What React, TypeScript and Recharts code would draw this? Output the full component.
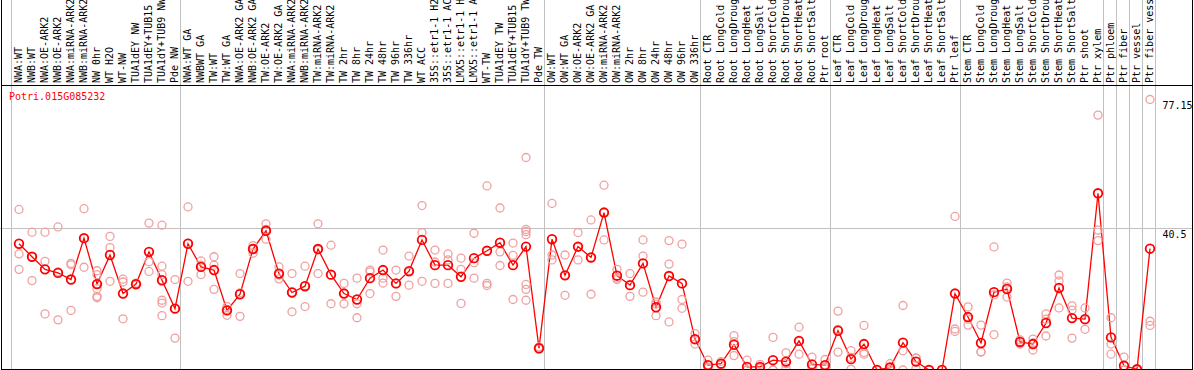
import { ComposedChart, Line, XAxis, YAxis, ReferenceLine } from 'recharts'

const geneName = 'Potri.015G085232'

const categories = [
  'NWA:WT', 'NWB:WT', 'NWA:OE-ARK2', 'NWB:OE-ARK2', 'NWA:miRNA-ARK2', 'NWB:miRNA-ARK2', 'NW 0hr', 'WT H2O',
  'WT-NW', 'TUA1dEY NW', 'TUA1dEY+TUB15', 'TUA1dY+TUB9 NW', 'Pde NW',
  'NWA:WT GA', 'NWBWT GA', 'TW:WT', 'TW:WT GA', 'NWA:OE-ARK2 GA', 'NWB:OE-ARK2 GA', 'TW:OE-ARK2', 'TW:OE-ARK2 GA',
  'NWA:miRNA-ARK2', 'NWB:miRNA-ARK2', 'TW:miRNA-ARK2', 'TW:miRNA-ARK2', 'TW 2hr', 'TW 8hr', 'TW 24hr', 'TW 48hr',
  'TW 96hr', 'TW 336hr', 'WT ACC', '35S::etr1-1 H2', '35S::etr1-1 AC', 'LMX5::etr1-1 H', 'LMX5::etr1-1 A',
  'WT-TW', 'TUA1dEY TW', 'TUA1dEY+TUB15', 'TUA1dY+TUB9 TW', 'Pde TW',
  'OW:WT', 'OW:WT GA', 'OW:OE-ARK2', 'OW:OE-ARK2 GA', 'OW:miRNA-ARK2', 'OW:miRNA-ARK2', 'OW 2hr', 'OW 8hr',
  'OW 24hr', 'OW 48hr', 'OW 96hr', 'OW 336hr',
  'Root CTR', 'Root LongCold', 'Root LongDroug', 'Root LongHeat', 'Root LongSalt', 'Root ShortCold',
  'Root ShortDrou', 'Root ShortHeat', 'Root ShortSalt', 'Ptr root',
  'Leaf CTR', 'Leaf LongCold', 'Leaf LongDroug', 'Leaf LongHeat', 'Leaf LongSalt', 'Leaf ShortCold',
  'Leaf ShortDrou', 'Leaf ShortHeat', 'Leaf ShortSalt', 'Ptr leaf',
  'Stem CTR', 'Stem LongCold', 'Stem LongDroug', 'Stem LongHeat', 'Stem LongSalt', 'Stem ShortCold',
  'Stem ShortDrou', 'Stem ShortHeat', 'Stem ShortSalt', 'Ptr shoot', 'Ptr xylem',
  'Ptr phloem', 'Ptr fiber', 'Ptr vessel', 'Ptr fiber vess',
]

const meanValues = [
  36.0, 32.3, 28.7, 27.7, 25.8, 37.6, 24.5, 32.8, 21.8, 24.5, 33.7, 25.6, 17.5,
  36.0, 29.4, 28.5, 17.0, 21.6, 34.5, 39.7, 27.5, 22.1, 23.9, 34.5, 27.2, 21.8, 20.1, 26.2, 28.5,
  24.7, 28.2, 37.1, 29.9, 29.9, 26.6, 31.9, 34.0, 36.3, 29.9, 35.2, 6.2,
  37.3, 27.0, 35.2, 32.1, 44.9, 26.9, 24.2, 30.4, 17.9, 26.8, 24.7, 8.8,
  1.4, 1.8, 7.2, 0.9, 0.9, 2.8, 2.4, 8.3, 1.6, 1.4,
  11.2, 3.1, 7.4, 0, 0.7, 7.8, 2.4, 0, 0, 21.8,
  15.1, 7.7, 22.2, 23.1, 8.0, 7.4, 13.4, 23.4, 14.8, 14.5, 50.4,
  9.3, 1.2, 0.2, 34.6,
]

const replicates = [
  [45.8, 33.1, 28.7], [39.3, 32.3, 25.5], [39.3, 31.0, 16.0], [40.8, 28.0, 14.3], [30.4, 30.0, 17.0],
  [46.0, 37.5, 29.3], [28.3, 27.2, 24.5, 23.2, 21.0, 20.6], [38.1, 34.9, 25.3], [25.9, 25.1, 14.6],
  [24.8, 24.5, 24.2], [41.9, 30.9, 28.1], [41.3, 29.6, 27.2, 25.6, 19.9, 19.1, 15.5], [25.8, 17.6, 9.1],
  [46.5, 36.2, 25.3], [31.1, 29.9, 27.2], [32.3, 29.9, 23.0], [18.1, 17.3, 15.6], [27.5, 22.0, 15.3],
  [35.5, 34.7, 33.3], [41.7, 40.1, 37.3], [29.4, 27.1, 26.0], [27.5, 22.2, 16.6], [29.6, 24.0, 18.1],
  [41.7, 34.3, 27.5], [35.6, 27.1, 18.9], [24.7, 21.8, 18.9], [26.2, 18.9, 14.9], [28.5, 28.0, 21.8],
  [34.2, 26.2, 24.8], [28.5, 24.6, 21.0], [32.5, 27.9, 24.2], [46.9, 39.2, 25.3], [34.2, 30.8, 24.7],
  [33.1, 31.4, 24.7], [31.9, 28.7, 19.0], [39.0, 30.6, 26.2], [52.5, 24.7, 24.1], [46.2, 33.7, 29.8],
  [36.2, 32.7, 20.1], [60.6, 40.1, 39.5, 38.6, 24.4, 23.0, 19.9], [6.6, 6.0, 6.0],
  [47.5, 32.8, 31.4], [32.8, 27.0, 21.3], [39.2, 35.0, 31.4], [42.8, 32.0, 21.6], [52.7, 44.9, 37.1],
  [28.7, 26.2, 25.8], [27.5, 24.1, 21.0], [37.1, 32.5, 22.2], [19.4, 18.8, 15.5], [36.9, 30.2, 13.7],
  [35.9, 20.1, 17.6], [10.4, 8.6, 7.4],
  [2.8, 0.8, 0.6], [2.4, 1.6, 1.4], [9.8, 8.1, 4.1], [2.8, 0, 0], [1.6, 0.6, 0.5],
  [9.3, 0, 0], [4.9, 1.8, 0.6], [12.2, 8.2, 4.5], [3.7, 0.8, 0.3], [3.0, 0.8, 0.4],
  [16.8, 11.6, 5.1], [5.5, 3.6, 0.2], [12.7, 5.0, 4.5], [0, 0, 0], [1.8, 0.2, 0.1],
  [18.4, 5.5, 0], [3.4, 3.4, 0.4], [0, 0, 0], [0, 0, 0], [43.8, 11.7, 11.0],
  [18.0, 14.5, 12.8], [12.8, 5.2, 5.1], [35.1, 21.4, 10.1], [24.8, 23.7, 20.8], [8.6, 8.0, 7.4],
  [8.8, 7.7, 5.7], [16.0, 14.5, 9.7], [27.1, 25.4, 17.7], [18.3, 17.1, 9.1], [17.7, 14.3, 11.6],
  [72.7, 39.9, 36.9],
  [14.9, 7.4, 4.5], [3.7, 0, 0], [0.3, 0.2, 0], [77.15, 13.9, 12.7],
]

const yTicks = [0, 40.5, 77.15]
// last category index of each block (grey separators)
const groupEnds = [12, 40, 52, 62, 72, 83, 84, 85, 86, 87]

const repKeys = ['r0', 'r1', 'r2', 'r3', 'r4', 'r5', 'r6']

const chartData = categories.map((name, i) => {
  const row: Record<string, number | string> = { idx: i, name, mean: meanValues[i] }
  replicates[i].forEach((v, k) => {
    row[repKeys[k]] = v
  })
  return row
})

const mono = "'DejaVu Sans Mono', monospace"

const HeaderTick = (props: any) => {
  const { x, payload } = props
  const bx = x + 2.5
  const by = 83
  return (
    <text x={bx} y={by} transform={`rotate(-90, ${bx}, ${by})`} fontFamily={mono} fontSize={10} fill="#000">
      {categories[payload.value]}
    </text>
  )
}

const ValueTick = (props: any) => {
  const { x, y, payload } = props
  const dy = payload.value === 0 ? -4 : 10
  return (
    <text x={x} y={y + dy} textAnchor="start" fontFamily={mono} fontSize={10} fill="#000">
      {payload.value}
    </text>
  )
}

const VSep = (props: any) => {
  const px = Math.round(props.x1 - 1.5) + 0.5
  return <line x1={px} x2={px} y1={0} y2={370} stroke="#c0c0c0" strokeWidth={1} />
}

const HGrid = (props: any) => {
  const py = Math.round(props.y1) + 0.5
  return <line x1={0} x2={1193} y1={py} y2={py} stroke="#c0c0c0" strokeWidth={1} />
}

export default function App() {
  const line = (top: number, left: number, w: number, h: number) => (
    <div style={{ position: 'absolute', top, left, width: w, height: h, background: '#000' }} />
  )
  return (
    <div style={{ position: 'fixed', top: 0, left: 0, width: 1194, height: 370, background: '#fff', overflow: 'hidden' }}>
      <ComposedChart
        width={1194}
        height={370}
        data={chartData}
        margin={{ top: 0, right: 0, bottom: 0, left: 12.5 }}
      >
        <XAxis
          dataKey="idx"
          type="category"
          scale="band"
          orientation="top"
          height={89.5}
          interval={0}
          axisLine={false}
          tickLine={false}
          tick={<HeaderTick />}
        />
        <YAxis
          orientation="right"
          width={37.5}
          domain={[0, 80]}
          ticks={yTicks}
          axisLine={false}
          tickLine={false}
          tickSize={0}
          tickMargin={6}
          tick={<ValueTick />}
        />
        <ReferenceLine y={40.5} shape={HGrid} />
        <ReferenceLine x={0} position="start" shape={VSep} />
        {groupEnds.map((g) => (
          <ReferenceLine key={g} x={g} position="end" shape={VSep} />
        ))}
        {repKeys.map((k) => (
          <Line
            key={k}
            dataKey={k}
            stroke="none"
            isAnimationActive={false}
            activeDot={false}
            dot={{ r: 4, stroke: '#f0a0a0', strokeWidth: 1.3, fill: 'none' }}
          />
        ))}
        <Line
          dataKey="mean"
          stroke="#ff0000"
          strokeWidth={1.3}
          isAnimationActive={false}
          activeDot={false}
          dot={{ r: 4.3, stroke: '#ff0000', strokeWidth: 1.8, fill: 'none' }}
        />
      </ComposedChart>
      {line(0, 1, 1, 370)}
      {line(0, 1192, 1, 370)}
      {line(85, 1, 1192, 1)}
      {line(369, 1, 1192, 1)}
      <div
        style={{
          position: 'absolute',
          top: 92.2,
          left: 9,
          fontFamily: mono,
          fontSize: 10,
          lineHeight: '10px',
          color: '#ff0000',
          whiteSpace: 'nowrap',
        }}
      >
        {geneName}
      </div>
    </div>
  )
}
